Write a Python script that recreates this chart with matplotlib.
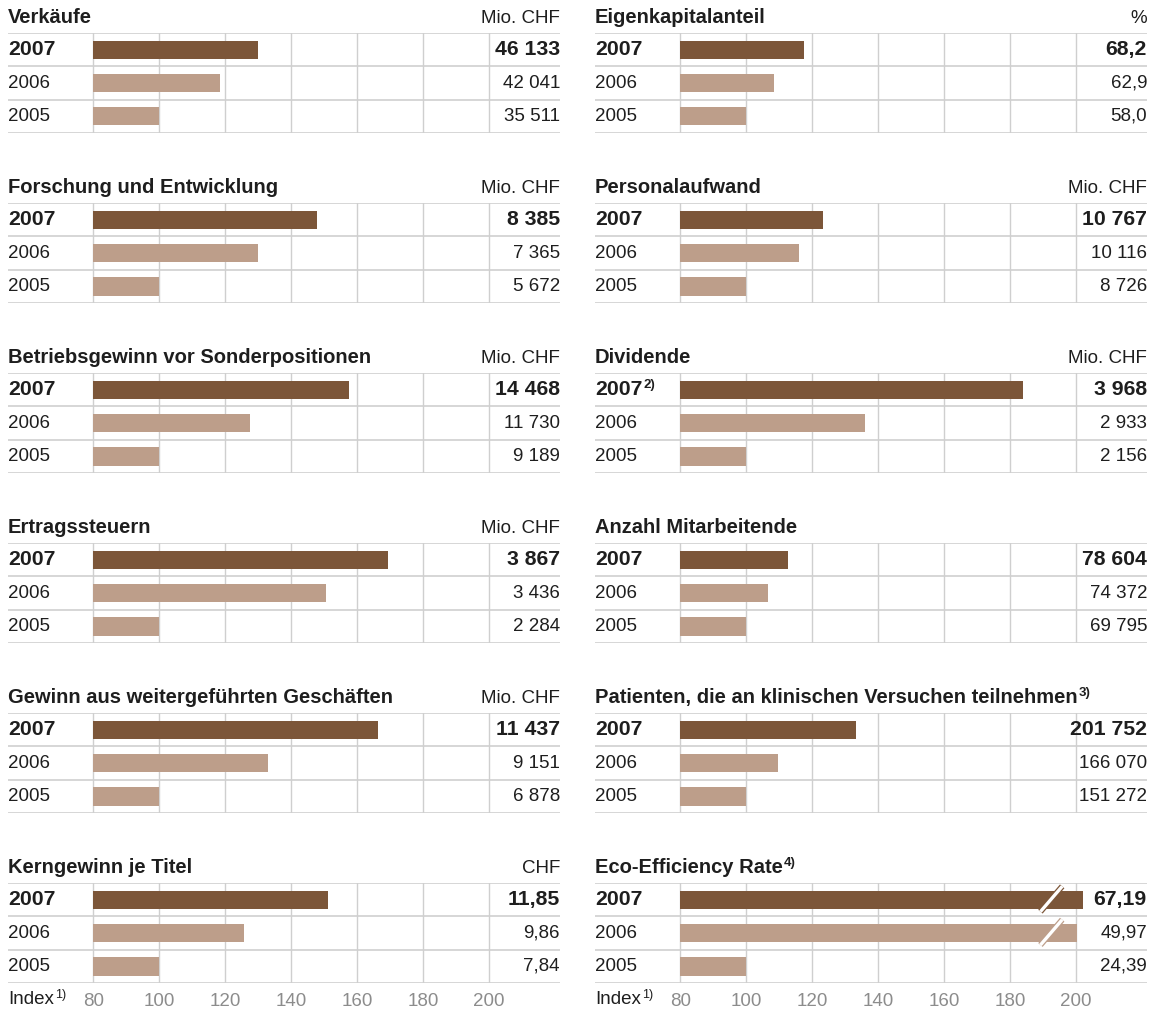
import matplotlib
matplotlib.use("Agg")
import matplotlib.pyplot as plt
import matplotlib.transforms as mtransforms

plt.rcParams['font.family'] = ['Liberation Sans', 'DejaVu Sans']

W, H = 1162, 1015

DARK = '#7c5639'
LIGHT = '#bd9e8a'
GRID = '#cfcfcf'
TXT = '#1e1e1e'
TICK = '#8c8c8c'

FS_REG = 13.5
FS_BOLD = 15.3
FS_TITLE = 14.5

years = ['2007', '2006', '2005']
index_ticks = [80, 100, 120, 140, 160, 180, 200]

# --- data: left column ---
titles_left = ['Verkäufe', 'Forschung und Entwicklung',
               'Betriebsgewinn vor Sonderpositionen', 'Ertragssteuern',
               'Gewinn aus weitergeführten Geschäften', 'Kerngewinn je Titel']
units_left = ['Mio. CHF', 'Mio. CHF', 'Mio. CHF', 'Mio. CHF', 'Mio. CHF', 'CHF']
verkaeufe = [46133, 42041, 35511]
forschung = [8385, 7365, 5672]
betriebsgewinn = [14468, 11730, 9189]
ertragssteuern = [3867, 3436, 2284]
gewinn = [11437, 9151, 6878]
kerngewinn = [11.85, 9.86, 7.84]
values_left = [verkaeufe, forschung, betriebsgewinn, ertragssteuern, gewinn, kerngewinn]
decimals_left = [0, 0, 0, 0, 0, 2]

# --- data: right column ---
titles_right = ['Eigenkapitalanteil', 'Personalaufwand', 'Dividende',
                'Anzahl Mitarbeitende',
                'Patienten, die an klinischen Versuchen teilnehmen',
                'Eco-Efficiency Rate']
title_notes_right = ['', '', '', '', '3)', '4)']
units_right = ['%', 'Mio. CHF', 'Mio. CHF', '', '', '']
eigenkapital = [68.2, 62.9, 58.0]
personalaufwand = [10767, 10116, 8726]
dividende = [3968, 2933, 2156]
mitarbeitende = [78604, 74372, 69795]
patienten = [201752, 166070, 151272]
eco_efficiency = [67.19, 49.97, 24.39]
values_right = [eigenkapital, personalaufwand, dividende, mitarbeitende, patienten, eco_efficiency]
decimals_right = [1, 0, 0, 0, 0, 2]

# broken bars (Eco-Efficiency): index too large, drawn cut off at these lengths
eco_cut = [202, 200.3]


def fmt(v, dec):
    if dec == 0:
        return f'{int(round(v)):,}'.replace(',', ' ')
    return f'{v:.{dec}f}'.replace('.', ',')


def superscript(ax, txt, note, size=9.5, weight='bold'):
    ax.annotate(note, xy=(1, 1), xycoords=txt, xytext=(0.6, 0.8),
                textcoords='offset points', ha='left', va='top',
                fontsize=size, fontweight=weight, color=TXT)


fig = plt.figure(figsize=(W / 100, H / 100), dpi=100)

XMIN, XMAX = 54.2, 221.5
col_left_px = [8, 595]
panel_w = 552
grid_h = 100

for c in range(2):
    titles = titles_left if c == 0 else titles_right
    units = units_left if c == 0 else units_right
    vals_all = values_left if c == 0 else values_right
    decs = decimals_left if c == 0 else decimals_right
    for i in range(6):
        top = 33 + 170 * i
        ax = fig.add_axes([col_left_px[c] / W, 1 - (top + grid_h) / H,
                           panel_w / W, grid_h / H])
        ax.set_xlim(XMIN, XMAX)
        ax.set_ylim(3, 0)
        for s in ax.spines.values():
            s.set_visible(False)
        ax.set_yticks([])

        # grid
        for x in index_ticks:
            ax.plot([x, x], [0, 3], color=GRID, lw=1, zorder=1)
        for y in range(4):
            ax.axhline(y, color=GRID, lw=1.2, zorder=1)

        vals = vals_all[i]
        idx = [v / vals[2] * 100 for v in vals]
        is_eco = (c == 1 and i == 5)
        for r in range(3):
            length = idx[r]
            col = DARK if r == 0 else LIGHT
            if is_eco and r < 2:
                length = eco_cut[r]
            ax.barh(r + 0.5, length - 80, left=80, height=0.55,
                    color=col, zorder=2)
            if is_eco and r < 2:
                # break mark
                ax.plot([189.2, 195.8], [r + 0.86, r + 0.1], color=col,
                        lw=4.2, zorder=3, solid_capstyle='butt')
                ax.plot([189.2, 195.8], [r + 0.86, r + 0.1], color='white',
                        lw=2.4, zorder=4, solid_capstyle='butt')

        trans = mtransforms.blended_transform_factory(ax.transAxes, ax.transData)
        for r in range(3):
            bold = r == 0
            yt = ax.text(0, r + 0.5, years[r], transform=trans, ha='left',
                         va='center', fontsize=FS_BOLD if bold else FS_REG,
                         fontweight='bold' if bold else 'normal', color=TXT)
            if c == 1 and i == 2 and r == 0:
                superscript(ax, yt, '2)')
            ax.text(1, r + 0.5, fmt(vals[r], decs[i]), transform=trans,
                    ha='right', va='center', fontsize=FS_BOLD if bold else FS_REG,
                    fontweight='bold' if bold else 'normal', color=TXT)

        tt = ax.text(0, 1.10, titles[i], transform=ax.transAxes, ha='left',
                     va='baseline', fontsize=FS_TITLE, fontweight='bold', color=TXT)
        if c == 1 and title_notes_right[i]:
            superscript(ax, tt, title_notes_right[i])
        ax.text(1, 1.10, units[i], transform=ax.transAxes, ha='right',
                va='baseline', fontsize=FS_REG, color=TXT)

        if i == 5:
            ax.set_xticks(index_ticks)
            ax.set_xticklabels([str(t) for t in index_ticks])
            ax.tick_params(axis='x', length=0, pad=7, labelsize=FS_REG,
                           labelcolor=TICK)
            it = ax.text(0, -0.16, 'Index', transform=ax.transAxes, ha='left',
                         va='center', fontsize=FS_REG, color=TXT)
            superscript(ax, it, '1)', size=9, weight='normal')
        else:
            ax.set_xticks([])

fig.savefig('out.png', dpi=100)
